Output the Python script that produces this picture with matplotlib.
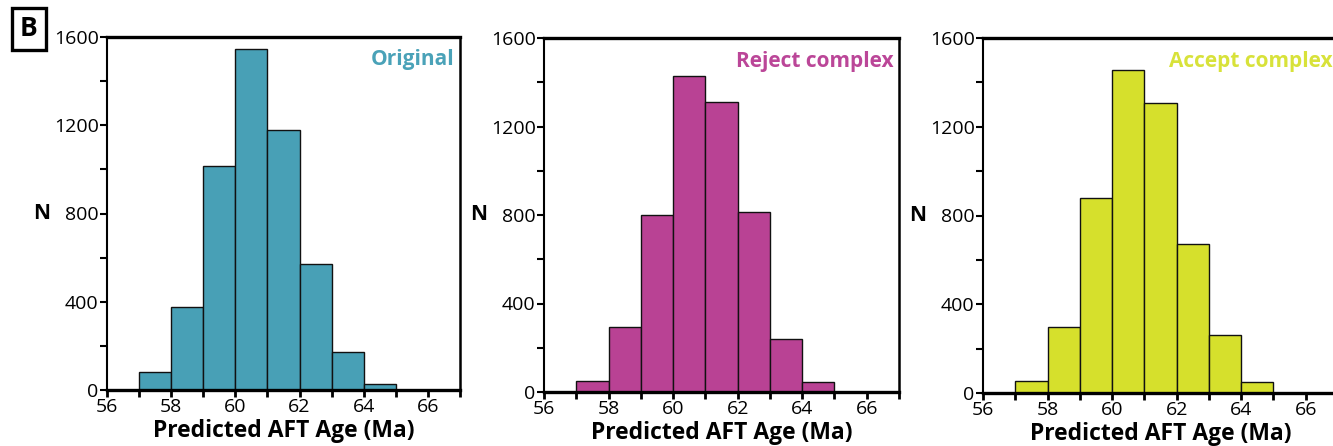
import numpy as np
import matplotlib.pyplot as plt
from matplotlib.ticker import MultipleLocator

plt.rcParams["font.family"] = ["Open Sans", "DejaVu Sans"]

# bin edges (Ma) and counts
bin_left = [57, 58, 59, 60, 61, 62, 63, 64]
original = [80, 378, 1015, 1545, 1179, 570, 172, 26]
reject = [51, 296, 801, 1427, 1312, 813, 241, 47]
accept = [53, 296, 877, 1456, 1305, 671, 261, 50]

panels = [
    ("Original", original, "#48a0b6", "#4aa2b8"),
    ("Reject complex", reject, "#b94294", "#bb4698"),
    ("Accept complex", accept, "#d6e02c", "#d8e23a"),
]

W, H = 1333, 446
# axes boxes in pixels: left, top, width, bottom
boxes = [(107, 37, 353, 390), (544, 38, 355, 392), (983, 38, 355, 393)]

fig = plt.figure(figsize=(W / 100, H / 100), dpi=100)

for (name, counts, fc, tc), (l, t, w, b) in zip(panels, boxes):
    ax = fig.add_axes([l / W, (H - b) / H, w / W, (b - t) / H])
    ax.bar(bin_left, counts, width=1.0, align="edge", color=fc,
           edgecolor="#111111", linewidth=1.0, zorder=2)
    ax.set_xlim(56, 67)
    ax.set_ylim(0, 1600)
    ax.xaxis.set_major_locator(MultipleLocator(2))
    ax.xaxis.set_minor_locator(MultipleLocator(1))
    ax.yaxis.set_major_locator(MultipleLocator(400))
    ax.yaxis.set_minor_locator(MultipleLocator(200))
    ax.tick_params(which="both", direction="out", length=5, width=1.5,
                   labelsize=14, pad=1, colors="black")
    ax.tick_params(axis="x", which="both", width=2)
    for side, lw in [("left", 1.5), ("right", 1.8), ("top", 2.4), ("bottom", 2.4)]:
        ax.spines[side].set_linewidth(lw)
    ax.spines["bottom"].set_zorder(3)
    ax.set_xlabel("Predicted AFT Age (Ma)", fontsize=16.5, fontweight="bold",
                  labelpad=2)
    ax.text(-65 / w, 0.5, "N", transform=ax.transAxes, fontsize=15,
            fontweight="bold", ha="center", va="center")
    ax.text(0.985, 0.935, name, transform=ax.transAxes, fontsize=15,
            fontweight="bold", color=tc, ha="right", va="center")

fig.text(29 / W, 1 - 29 / H, "B", fontsize=19, fontweight="bold",
         ha="center", va="center",
         bbox=dict(boxstyle="square,pad=0.3", fc="white", ec="black", lw=2.4))

fig.savefig("out.png", dpi=100)
